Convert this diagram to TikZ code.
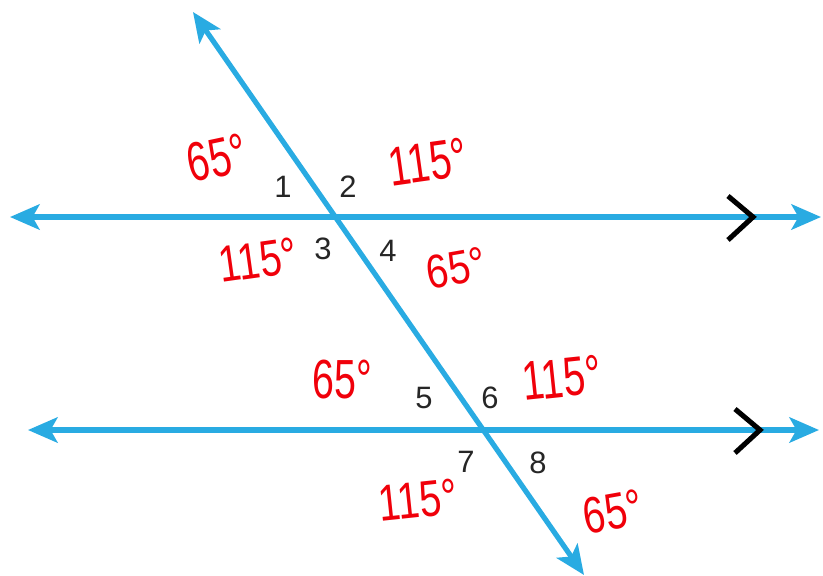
\documentclass[tikz,border=0pt]{standalone}
\usepackage{fontspec}
\setmainfont{Liberation Sans}
\usepackage{tikz}
\usetikzlibrary{arrows.meta}
\usetikzlibrary{calc}
\usepackage{xcolor}
\definecolor{lineblue}{RGB}{41,171,226}
\definecolor{inkred}{RGB}{240,0,10}

\begin{document}
\begin{tikzpicture}[x=0.025cm,y=-0.025cm,>={Stealth[length=21pt,width=18pt,inset=5pt]},
		line/.style={lineblue,line width=3.7pt,<->},
		tick/.style={black,line width=3.6pt},
		num/.style={font=\fontsize{22}{24}\selectfont,text=black!85},
		deg/.style={font=\fontsize{28}{30}\selectfont,text=inkred,inner sep=0pt}]
		
		\useasboundingbox (0,0) rectangle (823,575);
		
		% end points of the three lines
		\coordinate (aL) at (10,217);
		\coordinate (aR) at (821,217);
		\coordinate (bL) at (28,430);
		\coordinate (bR) at (819,430);
		\coordinate (tTop) at (193,12);
		\coordinate (tBot) at (584,575);
		
		% parallel lines and transversal
		\draw[line] (aL) -- (aR);
		\draw[line] (bL) -- (bR);
		\draw[line] (tTop) -- (tBot);
		
		% parallel marks
		\draw[tick] (728,196) -- (753,217) -- (728,240);
		\draw[tick] (735,409) -- (760,430) -- (735,453);
		
		% angle numbers
		\node[num] (n1) at (283,187) {1};
		\node[num] (n2) at (348,187) {2};
		\node[num] (n3) at (323,249) {3};
		\node[num] (n4) at (388,251) {4};
		\node[num] (n5) at (424,398) {5};
		\node[num] (n6) at (490,398) {6};
		\node[num] (n7) at (466,462) {7};
		\node[num] (n8) at (538,463) {8};
		
		% handwritten measures
		\node[deg,rotate=12] (d1) at (217,158) {\scalebox{1}[1.4]{65°}};
		\node[deg,rotate=8] (d2) at (428,162) {\scalebox{1}[1.4]{115°}};
		\node[deg,rotate=8] (d3) at (258,260) {\scalebox{1}[1.3]{115°}};
		\node[deg,rotate=10] (d4) at (456,268) {\scalebox{1}[1.2]{65°}};
		\node[deg] (d5) at (342,380) {\scalebox{1}[1.4]{65°}};
		\node[deg,rotate=6] (d6) at (562,378) {\scalebox{1}[1.4]{115°}};
		\node[deg,rotate=6] (d7) at (418,500) {\scalebox{1}[1.3]{115°}};
		\node[deg,rotate=10] (d8) at (613,512) {\scalebox{1}[1.3]{65°}};
		
	\end{tikzpicture}
\end{document}
